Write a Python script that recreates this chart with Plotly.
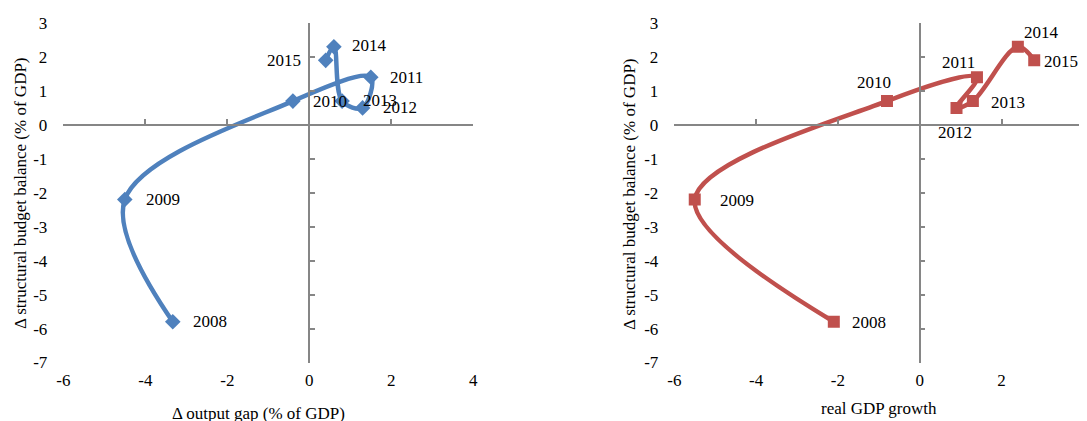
import plotly.graph_objects as go

# ---- data ----
years = ["2008", "2009", "2010", "2011", "2012", "2013", "2014", "2015"]
output_gap_change = [-3.33, -4.5, -0.4, 1.5, 1.3, 0.8, 0.6, 0.4]
real_gdp_growth = [-2.1, -5.5, -0.8, 1.4, 0.9, 1.3, 2.4, 2.8]
structural_balance_change = [-5.8, -2.2, 0.7, 1.4, 0.5, 0.7, 2.3, 1.9]
x_ticks = [-6, -4, -2, 0, 2, 4]
y_ticks = [-7, -6, -5, -4, -3, -2, -1, 0, 1, 2, 3]

# ---- styles / layout helpers ----
W, H = 1087, 421
OFF = 8  # page body margin in the browser
FONT = "Liberation Serif, Times New Roman, DejaVu Serif, serif"
FS = 17
GRAY = "#868686"
BLUE = "#4F81BD"
RED = "#C0504D"


def fx(px):
    return (px - OFF) / W


def fy(py):
    return 1 - (py - OFF) / H


xdom_l = [fx(63.3), fx(473.3)]
xdom_r = [fx(674.3), fx(1083.3)]
ydom = [fy(362.5), fy(23)]
XR = [-6, 4]
YR = [-7, 3]

# label offsets in pixels (dx, dy) relative to the marker, centred labels
left_offsets = {"2008": (37, 0), "2009": (38, 0), "2010": (37, 0), "2011": (36, 0),
                "2012": (37, 0), "2013": (38, 1), "2014": (36, 1), "2015": (-42, 0)}
right_offsets = {"2008": (35, -1), "2009": (42, -1), "2010": (-13, 19), "2011": (-18, 15),
                 "2012": (-2, -25), "2013": (35, -1), "2014": (24, 14), "2015": (27, -1)}

fig = go.Figure()

fig.add_trace(go.Scatter(
    x=output_gap_change, y=structural_balance_change, mode="lines+markers",
    line=dict(color=BLUE, width=4.5, shape="spline", smoothing=1),
    marker=dict(symbol="diamond", size=12, color=BLUE),
    xaxis="x", yaxis="y", hoverinfo="skip", showlegend=False))

fig.add_trace(go.Scatter(
    x=real_gdp_growth, y=structural_balance_change, mode="lines+markers",
    line=dict(color=RED, width=4.5, shape="spline", smoothing=1),
    marker=dict(symbol="square", size=12, color=RED),
    xaxis="x2", yaxis="y2", hoverinfo="skip", showlegend=False))

# dummy traces so the overlay (crossing) axes get drawn
for xa, ya in [("x3", "y3"), ("x4", "y4")]:
    fig.add_trace(go.Scatter(x=[None], y=[None], xaxis=xa, yaxis=ya,
                             showlegend=False, hoverinfo="skip"))

tickfont = dict(family=FONT, size=FS, color="black")


def label_axis_x(dom, anchor):
    return dict(domain=dom, range=XR, anchor=anchor, tickmode="array", tickvals=x_ticks,
                ticktext=[str(v) for v in x_ticks], showline=False, showgrid=False,
                zeroline=False, ticks="", tickfont=tickfont, fixedrange=True,
                automargin=False, ticklabelstandoff=5, ticklabeloverflow="allow")


def label_axis_y(anchor):
    return dict(domain=ydom, range=YR, anchor=anchor, tickmode="array", tickvals=y_ticks,
                ticktext=[str(v) for v in y_ticks], showline=False, showgrid=False,
                zeroline=False, ticks="", tickfont=tickfont, fixedrange=True,
                automargin=False, ticklabelstandoff=15)


ypos0 = ydom[0] + (0 - YR[0]) / (YR[1] - YR[0]) * (ydom[1] - ydom[0])


def cross_x(dom, over):
    return dict(domain=dom, range=XR, overlaying=over, anchor="free", position=ypos0,
                side="bottom", showline=True, linecolor=GRAY, linewidth=1.5,
                ticks="inside", ticklen=5, tickwidth=1.5, tickcolor=GRAY,
                tickmode="array", tickvals=x_ticks, showticklabels=False,
                showgrid=False, zeroline=False, fixedrange=True, automargin=False)


def cross_y(dom, over):
    xpos0 = dom[0] + (0 - XR[0]) / (XR[1] - XR[0]) * (dom[1] - dom[0])
    return dict(domain=ydom, range=YR, overlaying=over, anchor="free", position=xpos0,
                side="left", showline=True, linecolor=GRAY, linewidth=1.5,
                ticks="inside", ticklen=5, tickwidth=1.5, tickcolor=GRAY,
                tickmode="array", tickvals=y_ticks, showticklabels=False,
                showgrid=False, zeroline=False, fixedrange=True, automargin=False)


annotations = []
for yr, xv, yv in zip(years, output_gap_change, structural_balance_change):
    dx, dy = left_offsets[yr]
    annotations.append(dict(x=xv, y=yv, xref="x", yref="y", text=yr, showarrow=False,
                            xshift=dx, yshift=dy, font=dict(family=FONT, size=FS, color="black")))
for yr, xv, yv in zip(years, real_gdp_growth, structural_balance_change):
    dx, dy = right_offsets[yr]
    annotations.append(dict(x=xv, y=yv, xref="x2", yref="y2", text=yr, showarrow=False,
                            xshift=dx, yshift=dy, font=dict(family=FONT, size=FS, color="black")))

titlefont = dict(family=FONT, size=FS, color="black")
annotations += [
    dict(x=fx(258), y=fy(413), xref="paper", yref="paper", text="Δ output gap (% of GDP)",
         showarrow=False, font=titlefont, xanchor="center", yanchor="middle"),
    dict(x=fx(879), y=fy(408), xref="paper", yref="paper", text="real GDP growth",
         showarrow=False, font=titlefont, xanchor="center", yanchor="middle"),
    dict(x=fx(20), y=fy(193), xref="paper", yref="paper",
         text="Δ structural budget balance (% of GDP)", textangle=-90,
         showarrow=False, font=titlefont, xanchor="center", yanchor="middle"),
    dict(x=fx(630), y=fy(194), xref="paper", yref="paper",
         text="Δ structural budget balance (% of GDP)", textangle=-90,
         showarrow=False, font=titlefont, xanchor="center", yanchor="middle"),
]

fig.update_layout(
    template="none",
    width=W, height=H, margin=dict(l=0, r=0, t=0, b=0, autoexpand=False),
    paper_bgcolor="white", plot_bgcolor="white",
    font=dict(family=FONT, size=FS, color="black"),
    xaxis=label_axis_x(xdom_l, "y"), yaxis=label_axis_y("x"),
    xaxis2=label_axis_x(xdom_r, "y2"), yaxis2=label_axis_y("x2"),
    xaxis3=cross_x(xdom_l, "x"), yaxis3=cross_y(xdom_l, "y"),
    xaxis4=cross_x(xdom_r, "x2"), yaxis4=cross_y(xdom_r, "y2"),
    annotations=annotations,
)

fig.write_html("out.html")
